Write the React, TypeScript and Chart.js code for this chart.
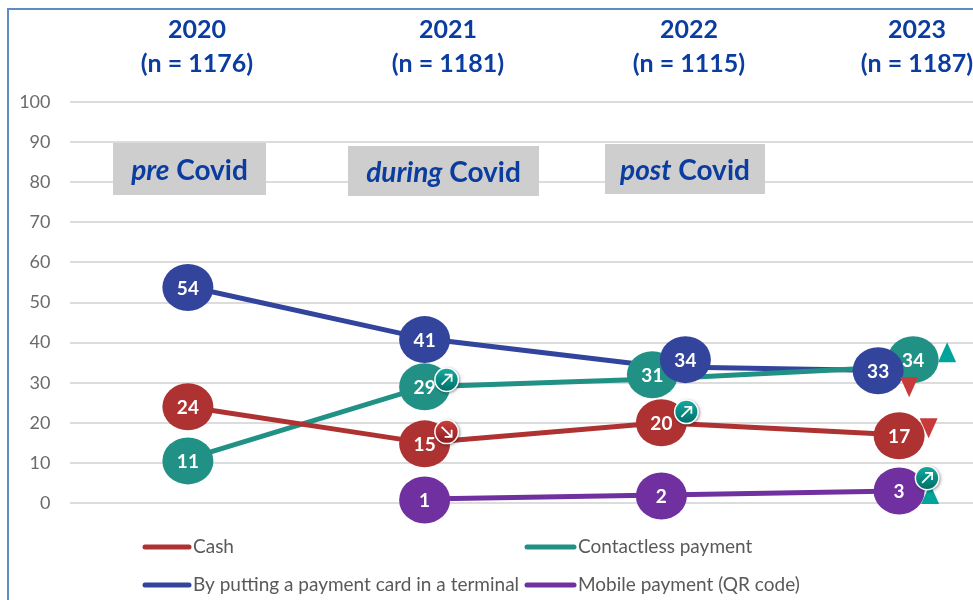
import React, { useEffect, useRef } from "react";
import { Chart, registerables } from "chart.js";

Chart.register(...registerables);

const years = ["2020", "2021", "2022", "2023"];
const sampleSizes = ["(n = 1176)", "(n = 1181)", "(n = 1115)", "(n = 1187)"];
const cash = [24, 15, 20, 17];
const contactless = [11, 29, 31, 34];
const cardTerminal = [54, 41, 34, 33];
const mobileQr = [null, 1, 2, 3];
const yTicks = [0, 10, 20, 30, 40, 50, 60, 70, 80, 90, 100];

const FONT = "Lato, Carlito, 'Open Sans', sans-serif";
const NAVY = "#0b3c9f";
const RED = "#ae3232";
const TEAL = "#219185";
const BLUE = "#33449c";
const PURPLE = "#7030a0";

// Pixel nudges of the value bubbles relative to their data point (series -> per-year [dx, dy])
const bubbleNudge: [number, number][][] = [
  [[0, 0], [0, 1], [0, 0], [1, 1]],
  [[0, 2], [0, 0], [-9, -4], [15, -7]],
  [[0, 1], [0, 1], [24, -7], [-20, 0]],
  [[0, 0], [0, 1], [0, 1], [1, 0]],
];

const headerBoxes = [
  { x: 197, head: years[0], sub: sampleSizes[0] },
  { x: 448, head: years[1], sub: sampleSizes[1] },
  { x: 689, head: years[2], sub: sampleSizes[2] },
  { x: 917, head: years[3], sub: sampleSizes[3] },
];

const periodBoxes = [
  { x: 113, y: 143, w: 153, h: 52, italic: "pre", rest: " Covid" },
  { x: 348, y: 146, w: 191, h: 50, italic: "during", rest: " Covid" },
  { x: 605, y: 144, w: 160, h: 50, italic: "post", rest: " Covid" },
];

// Trend badges: series, year index, offset from the data point
const badges = [
  { s: 1, i: 1, dx: 22, dy: -7, up: true, c1: "#12a79c", c2: "#00736c" },
  { s: 0, i: 1, dx: 22, dy: -11, up: false, c1: "#c93d3d", c2: "#8f1f24" },
  { s: 0, i: 2, dx: 25, dy: -11, up: true, c1: "#12a79c", c2: "#00736c" },
  { s: 3, i: 3, dx: 29, dy: -13, up: true, c1: "#12a79c", c2: "#00736c" },
];

// Significance triangles
const triangles = [
  { s: 1, i: 3, dx: 49, dy: -14.5, up: true, color: "#00a49a" },
  { s: 2, i: 3, dx: 11, dy: 16.5, up: false, color: "#c83a3a" },
  { s: 0, i: 3, dx: 30.5, dy: -6.5, up: false, color: "#c83a3a" },
  { s: 3, i: 3, dx: 32, dy: 3, up: true, color: "#00a49a" },
];

const legendSlots = [
  { x1: 145, x2: 189, y: 547 },
  { x1: 527, x2: 574, y: 547 },
  { x1: 145, x2: 189, y: 585 },
  { x1: 527, x2: 574, y: 585 },
];

const overlay = {
  id: "overlay",
  beforeDatasetsDraw(chart: any) {
    const { ctx } = chart;
    ctx.save();
    // header text
    ctx.textAlign = "center";
    ctx.textBaseline = "middle";
    ctx.fillStyle = NAVY;
    ctx.font = `bold 25px ${FONT}`;
    headerBoxes.forEach((h) => {
      ctx.fillText(h.head, h.x, 30);
      ctx.fillText(h.sub, h.x, 64);
    });
    // period boxes
    periodBoxes.forEach((b) => {
      ctx.fillStyle = "#cfcecf";
      ctx.fillRect(b.x, b.y, b.w, b.h);
      const italicFont = `italic bold 28px ${FONT}`;
      const boldFont = `bold 28px ${FONT}`;
      ctx.font = italicFont;
      const w1 = ctx.measureText(b.italic).width;
      ctx.font = boldFont;
      const w2 = ctx.measureText(b.rest).width;
      const sx = b.x + (b.w - w1 - w2) / 2;
      const cy = b.y + b.h / 2 + 2;
      ctx.textAlign = "left";
      ctx.fillStyle = NAVY;
      ctx.font = italicFont;
      ctx.fillText(b.italic, sx, cy);
      ctx.font = boldFont;
      ctx.fillText(b.rest, sx + w1, cy);
    });
    ctx.restore();
  },
  afterDatasetsDraw(chart: any) {
    const { ctx } = chart;
    ctx.save();
    const pt = (s: number, i: number) => chart.getDatasetMeta(s).data[i];

    // bubbles + value labels
    chart.data.datasets.forEach((ds: any, s: number) => {
      if (s === 2) return;
      drawSeriesBubbles(ctx, chart, ds, s);
    });
    drawSeriesBubbles(ctx, chart, chart.data.datasets[2], 2);

    // triangles
    triangles.forEach((t) => {
      const p = pt(t.s, t.i);
      const cx = p.x + t.dx;
      const cy = p.y + t.dy;
      ctx.fillStyle = t.color;
      ctx.beginPath();
      if (t.up) {
        ctx.moveTo(cx, cy - 10);
        ctx.lineTo(cx + 9, cy + 10);
        ctx.lineTo(cx - 9, cy + 10);
      } else {
        ctx.moveTo(cx, cy + 10);
        ctx.lineTo(cx + 9, cy - 10);
        ctx.lineTo(cx - 9, cy - 10);
      }
      ctx.closePath();
      ctx.fill();
    });

    // badges
    badges.forEach((b) => {
      const p = pt(b.s, b.i);
      const cx = p.x + b.dx;
      const cy = p.y + b.dy;
      ctx.save();
      ctx.shadowColor = "rgba(0,0,0,0.4)";
      ctx.shadowBlur = 3;
      ctx.shadowOffsetX = 1;
      ctx.shadowOffsetY = 1;
      ctx.fillStyle = "#ffffff";
      ctx.beginPath();
      ctx.arc(cx, cy, 12.5, 0, Math.PI * 2);
      ctx.fill();
      ctx.restore();
      const g = ctx.createLinearGradient(cx, cy - 10, cx, cy + 10);
      g.addColorStop(0, b.c1);
      g.addColorStop(1, b.c2);
      ctx.fillStyle = g;
      ctx.beginPath();
      ctx.arc(cx, cy, 11, 0, Math.PI * 2);
      ctx.fill();
      ctx.strokeStyle = "#ffffff";
      ctx.lineWidth = 1.8;
      ctx.lineCap = "butt";
      ctx.beginPath();
      if (b.up) {
        ctx.moveTo(cx - 5, cy + 5);
        ctx.lineTo(cx + 5, cy - 5);
        ctx.moveTo(cx - 2, cy - 5);
        ctx.lineTo(cx + 5, cy - 5);
        ctx.lineTo(cx + 5, cy + 2);
      } else {
        ctx.moveTo(cx - 5, cy - 5);
        ctx.lineTo(cx + 5, cy + 5);
        ctx.moveTo(cx - 2, cy + 5);
        ctx.lineTo(cx + 5, cy + 5);
        ctx.lineTo(cx + 5, cy - 2);
      }
      ctx.stroke();
    });

    // legend, from the dataset list
    chart.data.datasets.forEach((ds: any, s: number) => {
      const slot = legendSlots[s];
      ctx.strokeStyle = ds.borderColor;
      ctx.lineWidth = 5;
      ctx.lineCap = "round";
      ctx.beginPath();
      ctx.moveTo(slot.x1, slot.y);
      ctx.lineTo(slot.x2, slot.y);
      ctx.stroke();
      ctx.fillStyle = "#595959";
      ctx.font = `19px ${FONT}`;
      ctx.textAlign = "left";
      ctx.textBaseline = "middle";
      ctx.fillText(ds.label, slot.x2 + 4, slot.y);
    });
    ctx.restore();
  },
};

function drawSeriesBubbles(ctx: any, chart: any, ds: any, s: number) {
  const meta = chart.getDatasetMeta(s);
  ds.data.forEach((v: number | null, i: number) => {
    if (v === null) return;
    const p = meta.data[i];
    const [dx, dy] = bubbleNudge[s][i];
    const cx = p.x + dx;
    const cy = p.y + dy;
    ctx.fillStyle = ds.borderColor;
    ctx.beginPath();
    ctx.ellipse(cx, cy, 25.5, 23.5, 0, 0, Math.PI * 2);
    ctx.fill();
    ctx.fillStyle = "#ffffff";
    ctx.font = `bold 19px ${FONT}`;
    ctx.textAlign = "center";
    ctx.textBaseline = "middle";
    ctx.fillText(String(v), cx, cy + 1);
  });
}

export default function App() {
  const ref = useRef<HTMLCanvasElement | null>(null);
  useEffect(() => {
    if (!ref.current) return;
    const chart = new Chart(ref.current, {
      type: "line",
      data: {
        labels: years,
        datasets: [
          { label: "Cash", data: cash, borderColor: RED },
          { label: "Contactless payment", data: contactless, borderColor: TEAL },
          { label: "By putting a payment card in a terminal", data: cardTerminal, borderColor: BLUE },
          { label: "Mobile payment (QR code)", data: mobileQr, borderColor: PURPLE },
        ].map((d) => ({ ...d, borderWidth: 5, pointRadius: 0, tension: 0, borderCapStyle: "round" as const })),
      },
      options: {
        responsive: false,
        animation: false,
        layout: { padding: { left: 0, top: 102, right: 13.5, bottom: 97 } },
        plugins: { legend: { display: false }, tooltip: { enabled: false } },
        scales: {
          x: {
            type: "category",
            offset: true,
            grid: { display: false, drawTicks: false },
            border: { display: false },
            ticks: { display: false },
          },
          y: {
            min: 0,
            max: 100,
            afterBuildTicks: (axis: any) => {
              axis.ticks = yTicks.map((value) => ({ value }));
            },
            afterFit: (axis: any) => {
              axis.width = 69.5;
            },
            grid: { color: "#dcdcdc", lineWidth: 2, drawTicks: false },
            border: { display: false },
            ticks: { color: "#6b6b6b", padding: 19, font: { family: FONT, size: 18 } },
          },
        },
      },
      plugins: [overlay],
    } as any);
    return () => chart.destroy();
  }, []);

  return (
    <div style={{ position: "fixed", left: 0, top: 0, width: 973, height: 600, overflow: "hidden", background: "#fff" }}>
      <canvas ref={ref} width={1030} height={600} style={{ position: "absolute", left: 0, top: 0, width: 1030, height: 600 }} />
      <div style={{ position: "absolute", left: 7, top: 8, width: 1000, height: 700, borderLeft: "2px solid #5b8cc6", borderTop: "2px solid #5b8cc6" }} />
    </div>
  );
}
